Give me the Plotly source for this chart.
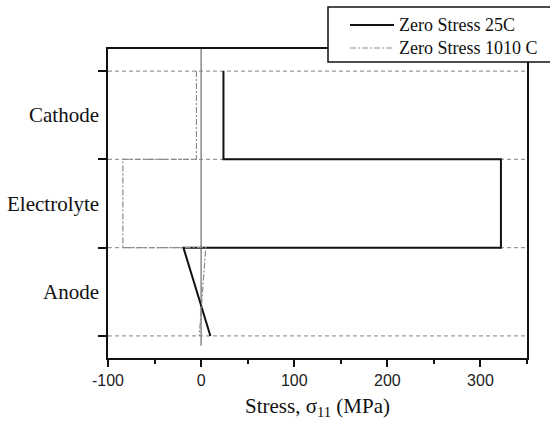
import plotly.graph_objects as go

# ---- data ----
layers = ["Anode", "Electrolyte", "Cathode"]
layer_bounds = [0, 1, 2, 3]
layer_centers = [0.5, 1.5, 2.5]

series_25_name = "Zero Stress 25C"
series_25_y = [3, 2, 2, 1, 1, 0]
series_25_x = [24, 24, 322, 322, -19, 10]

series_1010_name = "Zero Stress 1010 C"
series_1010_y = [3, 2, 2, 1, 1, 0]
series_1010_x = [-5, -5, -84, -84, 5, -2]

x_tick_vals = [-100, 0, 100, 200, 300]
x_tick_text = ["-100", "0", "100", "200", "300"]

SERIF = "Liberation Serif, Times New Roman, serif"
SANS = "Liberation Sans, Arial, sans-serif"

fig = go.Figure()
fig.add_trace(go.Scatter(x=series_25_x, y=series_25_y, mode="lines",
                         line=dict(color="#111111", width=2), name=series_25_name,
                         showlegend=False))
fig.add_trace(go.Scatter(x=series_1010_x, y=series_1010_y, mode="lines",
                         line=dict(color="#8a8a8a", width=1.2, dash="6px,2px,2px,2px"),
                         name=series_1010_name, showlegend=False))

shapes = []
for b in layer_bounds:
    shapes.append(dict(type="line", xref="paper", yref="y", x0=0, x1=1, y0=b, y1=b,
                       line=dict(color="#9a9a9a", width=1.2, dash="4px,3px"), layer="below"))
# zero stress vertical reference line
shapes.append(dict(type="line", xref="x", yref="y", x0=0, x1=0, y0=-0.11, y1=3.25,
                   line=dict(color="#8a8a8a", width=1.5), layer="below"))

# legend box (manual, drawn above frame)
shapes.append(dict(type="rect", xref="paper", yref="paper",
                   x0=(328 - 108) / 419, x1=(560 - 108) / 419,
                   y0=(358 - 62) / 309, y1=(358 - 7) / 309,
                   fillcolor="white", line=dict(color="#111111", width=1.5), layer="above"))
leg_y = [(358 - 25) / 309, (358 - 48) / 309]
shapes.append(dict(type="line", xref="paper", yref="paper",
                   x0=(350 - 108) / 419, x1=(394 - 108) / 419, y0=leg_y[0], y1=leg_y[0],
                   line=dict(color="#111111", width=2), layer="above"))
shapes.append(dict(type="line", xref="paper", yref="paper",
                   x0=(350 - 108) / 419, x1=(394 - 108) / 419, y0=leg_y[1], y1=leg_y[1],
                   line=dict(color="#8a8a8a", width=1.2, dash="6px,2px,2px,2px"), layer="above"))

annotations = []
for name, yy in zip([series_25_name, series_1010_name], leg_y):
    annotations.append(dict(text=name, xref="paper", yref="paper", x=(397 - 108) / 419, y=yy,
                            xanchor="left", yanchor="middle", showarrow=False,
                            font=dict(family=SERIF, size=18, color="#111111")))
for lab, yc in zip(layers, layer_centers):
    annotations.append(dict(text=lab, xref="paper", yref="y", x=-0.017, y=yc,
                            xanchor="right", yanchor="middle", showarrow=False,
                            font=dict(family=SERIF, size=21, color="#111111")))

fig.update_layout(
    width=550, height=431,
    margin=dict(l=108, r=23, t=49, b=73, autoexpand=False),
    paper_bgcolor="white", plot_bgcolor="white",
    showlegend=False,
    shapes=shapes, annotations=annotations,
    xaxis=dict(range=[-100, 350], tickvals=x_tick_vals, ticktext=x_tick_text,
               ticks="outside", ticklen=7, tickwidth=1.5, tickcolor="#111111",
               minor=dict(dtick=50, tick0=0, ticks="outside", ticklen=4, tickwidth=1.5,
                          tickcolor="#111111", showgrid=False),
               showline=True, linecolor="#111111", linewidth=2, mirror=True,
               showgrid=False, zeroline=False,
               tickfont=dict(family=SANS, size=16, color="#222222"),
               title=dict(text="Stress, σ<sub>11</sub> (MPa)", standoff=10,
                          font=dict(family=SERIF, size=21, color="#111111"))),
    yaxis=dict(range=[-0.25, 3.25], tickvals=layer_bounds, showticklabels=False,
               ticks="outside", ticklen=8, tickwidth=1.5, tickcolor="#111111",
               showline=True, linecolor="#111111", linewidth=2, mirror=True,
               showgrid=False, zeroline=False),
)

fig.write_html("out.html")
